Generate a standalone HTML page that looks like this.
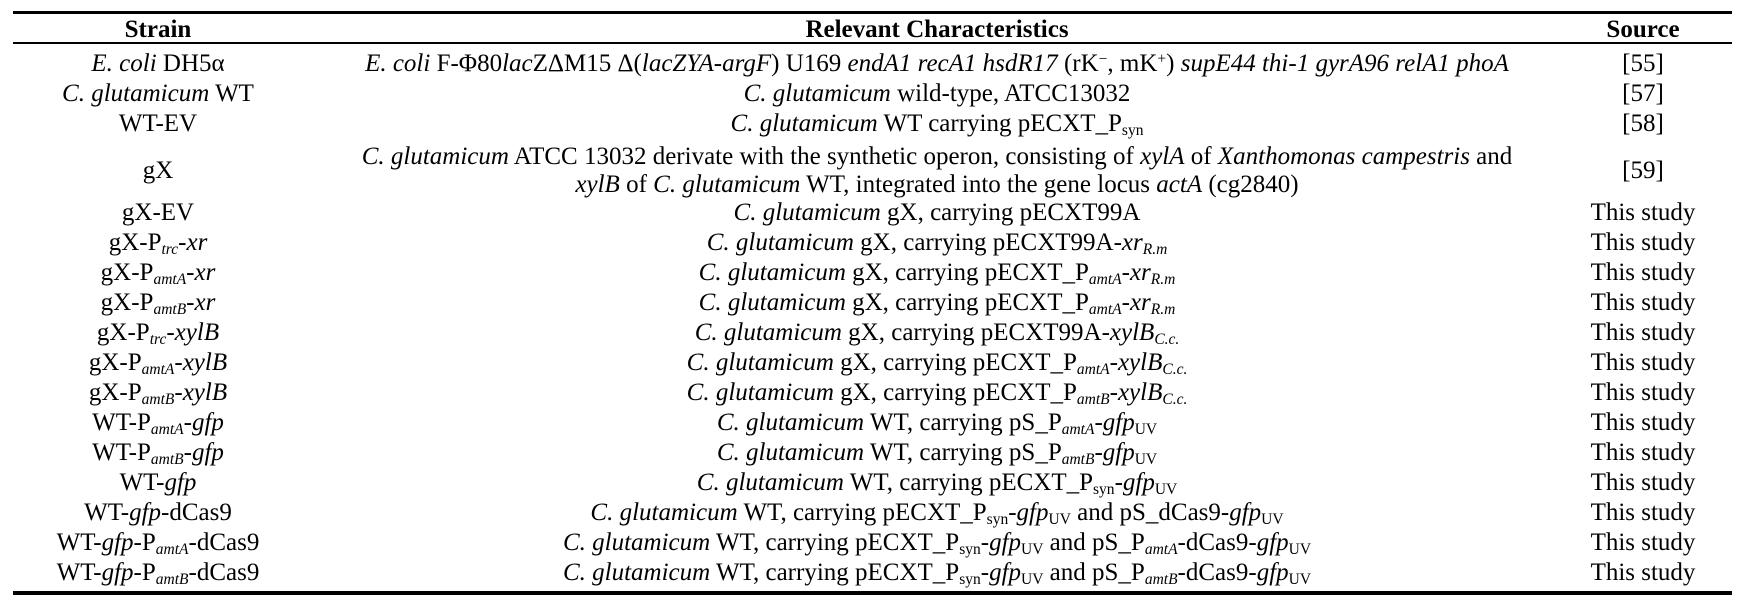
<!DOCTYPE html>
<html><head><meta charset="utf-8"><style>
html,body{margin:0;padding:0;background:#fff;}
body{width:1743px;height:600px;position:relative;overflow:hidden;font-family:"Liberation Serif","Times New Roman",serif;font-size:25px;color:#000;}
.t{position:absolute;white-space:nowrap;line-height:28px;transform:translateX(-50%);}
.a{left:158px}.b{left:937px}.c{left:1643px}
.h{font-weight:bold}
sub{font-size:0.62em;font-style:italic;vertical-align:-0.25em;line-height:0}
sub.n{font-style:normal}
sup{font-size:0.62em;vertical-align:0.5em;line-height:0}
.l{position:absolute;left:13px;width:1719px;background:#000}
</style></head><body>
<div class="l" style="top:11px;height:3px"></div>
<div class="l" style="top:42px;height:2px"></div>
<div class="l" style="top:591px;height:4px"></div>

<div class="t a h" style="top:16px">Strain</div>
<div class="t b h" style="top:16px">Relevant Characteristics</div>
<div class="t c h" style="top:16px">Source</div>

<div class="t a" style="top:50px"><i>E. coli</i> DH5α</div>
<div class="t b" style="top:50px"><i>E. coli</i> F-Φ80<i>lac</i>ZΔM15 Δ(<i>lacZYA-argF</i>) U169 <i>endA1 recA1 hsdR17</i> (rK<sup>−</sup>, mK<sup>+</sup>) <i>supE44 thi-1 gyrA96 relA1 phoA</i></div>
<div class="t c" style="top:50px">[55]</div>

<div class="t a" style="top:80px"><i>C. glutamicum</i> WT</div>
<div class="t b" style="top:80px"><i>C. glutamicum</i> wild-type, ATCC13032</div>
<div class="t c" style="top:80px">[57]</div>

<div class="t a" style="top:110px">WT-EV</div>
<div class="t b" style="top:110px"><i>C. glutamicum</i> WT carrying pECXT_P<sub class="n">syn</sub></div>
<div class="t c" style="top:110px">[58]</div>

<div class="t a" style="top:157px">gX</div>
<div class="t b" style="top:143px"><i>C. glutamicum</i> ATCC 13032 derivate with the synthetic operon, consisting of <i>xylA</i> of <i>Xanthomonas campestris</i> and</div>
<div class="t b" style="top:171px"><i>xylB</i> of <i>C. glutamicum</i> WT, integrated into the gene locus <i>actA</i> (cg2840)</div>
<div class="t c" style="top:157px">[59]</div>

<div class="t a" style="top:199px">gX-EV</div>
<div class="t b" style="top:199px"><i>C. glutamicum</i> gX, carrying pECXT99A</div>
<div class="t c" style="top:199px">This study</div>

<div class="t a" style="top:229px">gX-P<sub>trc</sub>-<i>xr</i></div>
<div class="t b" style="top:229px"><i>C. glutamicum</i> gX, carrying pECXT99A-<i>xr</i><sub>R.m</sub></div>
<div class="t c" style="top:229px">This study</div>

<div class="t a" style="top:259px">gX-P<sub>amtA</sub>-<i>xr</i></div>
<div class="t b" style="top:259px"><i>C. glutamicum</i> gX, carrying pECXT_P<sub>amtA</sub>-<i>xr</i><sub>R.m</sub></div>
<div class="t c" style="top:259px">This study</div>

<div class="t a" style="top:289px">gX-P<sub>amtB</sub>-<i>xr</i></div>
<div class="t b" style="top:289px"><i>C. glutamicum</i> gX, carrying pECXT_P<sub>amtA</sub>-<i>xr</i><sub>R.m</sub></div>
<div class="t c" style="top:289px">This study</div>

<div class="t a" style="top:319px">gX-P<sub>trc</sub>-<i>xylB</i></div>
<div class="t b" style="top:319px"><i>C. glutamicum</i> gX, carrying pECXT99A-<i>xylB</i><sub>C.c.</sub></div>
<div class="t c" style="top:319px">This study</div>

<div class="t a" style="top:349px">gX-P<sub>amtA</sub>-<i>xylB</i></div>
<div class="t b" style="top:349px"><i>C. glutamicum</i> gX, carrying pECXT_P<sub>amtA</sub>-<i>xylB</i><sub>C.c.</sub></div>
<div class="t c" style="top:349px">This study</div>

<div class="t a" style="top:379px">gX-P<sub>amtB</sub>-<i>xylB</i></div>
<div class="t b" style="top:379px"><i>C. glutamicum</i> gX, carrying pECXT_P<sub>amtB</sub>-<i>xylB</i><sub>C.c.</sub></div>
<div class="t c" style="top:379px">This study</div>

<div class="t a" style="top:409px">WT-P<sub>amtA</sub>-<i>gfp</i></div>
<div class="t b" style="top:409px"><i>C. glutamicum</i> WT, carrying pS_P<sub>amtA</sub>-<i>gfp</i><sub class="n">UV</sub></div>
<div class="t c" style="top:409px">This study</div>

<div class="t a" style="top:439px">WT-P<sub>amtB</sub>-<i>gfp</i></div>
<div class="t b" style="top:439px"><i>C. glutamicum</i> WT, carrying pS_P<sub>amtB</sub>-<i>gfp</i><sub class="n">UV</sub></div>
<div class="t c" style="top:439px">This study</div>

<div class="t a" style="top:469px">WT-<i>gfp</i></div>
<div class="t b" style="top:469px"><i>C. glutamicum</i> WT, carrying pECXT_P<sub class="n">syn</sub>-<i>gfp</i><sub class="n">UV</sub></div>
<div class="t c" style="top:469px">This study</div>

<div class="t a" style="top:499px">WT-<i>gfp</i>-dCas9</div>
<div class="t b" style="top:499px"><i>C. glutamicum</i> WT, carrying pECXT_P<sub class="n">syn</sub>-<i>gfp</i><sub class="n">UV</sub> and pS_dCas9-<i>gfp</i><sub class="n">UV</sub></div>
<div class="t c" style="top:499px">This study</div>

<div class="t a" style="top:529px">WT-<i>gfp</i>-P<sub>amtA</sub>-dCas9</div>
<div class="t b" style="top:529px"><i>C. glutamicum</i> WT, carrying pECXT_P<sub class="n">syn</sub>-<i>gfp</i><sub class="n">UV</sub> and pS_P<sub>amtA</sub>-dCas9-<i>gfp</i><sub class="n">UV</sub></div>
<div class="t c" style="top:529px">This study</div>

<div class="t a" style="top:559px">WT-<i>gfp</i>-P<sub>amtB</sub>-dCas9</div>
<div class="t b" style="top:559px"><i>C. glutamicum</i> WT, carrying pECXT_P<sub class="n">syn</sub>-<i>gfp</i><sub class="n">UV</sub> and pS_P<sub>amtB</sub>-dCas9-<i>gfp</i><sub class="n">UV</sub></div>
<div class="t c" style="top:559px">This study</div>
</body></html>
